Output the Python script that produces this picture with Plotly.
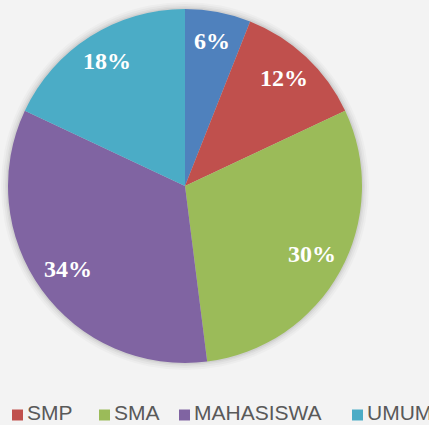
import math
import plotly.graph_objects as go

# Respondent groups and their shares (percent)
labels = ["SD", "SMP", "SMA", "MAHASISWA", "UMUM"]
values = [6, 12, 30, 34, 18]
colors = ["#4F81BD", "#C0504D", "#9BBB59", "#8064A2", "#4BACC6"]

W, H = 429, 425
CX, CY, R = 185, 186, 177          # pie centre and radius in pixels
LABEL_R = 0.82                     # label distance as fraction of radius

# legend item layout (pixels): square left edge for SMP .. UMUM
legend_sq_x = [12, 99, 179, 352]
legend_sq_y = 415
sq = 11


def px(x):
    return x / W


def py(y):
    return 1 - y / H


fig = go.Figure(
    go.Pie(
        labels=labels,
        values=values,
        sort=False,
        direction="clockwise",
        rotation=0,
        marker=dict(colors=colors, line=dict(width=0)),
        textinfo="none",
        hoverinfo="label+percent",
        showlegend=False,
        domain=dict(x=[px(CX - R), px(CX + R)], y=[py(CY + R), py(CY - R)]),
    )
)

# soft shadow ring behind the pie
shapes = []
for k, a in [(7, 0.025), (5, 0.03), (3, 0.04), (1.5, 0.05)]:
    shapes.append(dict(
        type="circle", xref="paper", yref="paper", layer="below",
        x0=px(CX - R - k), x1=px(CX + R + k),
        y0=py(CY + R + k), y1=py(CY - R - k),
        fillcolor=f"rgba(0,0,0,{a})", line=dict(width=0),
    ))

annotations = []
total = sum(values)
cum = 0
for lab, v in zip(labels, values):
    mid = (cum + v / 2) / total
    cum += v
    th = 2 * math.pi * mid
    x = CX + LABEL_R * R * math.sin(th)
    y = CY - LABEL_R * R * math.cos(th) - 2
    annotations.append(dict(
        x=px(x), y=py(y), xref="paper", yref="paper",
        text=f"<b>{round(100 * v / total)}%</b>", showarrow=False,
        font=dict(family="Liberation Serif", size=24, color="white"),
        xanchor="center", yanchor="middle",
    ))

# bottom legend (first entry falls outside the visible area)
for lab, col, x0 in zip(labels[1:], colors[1:], legend_sq_x):
    shapes.append(dict(
        type="rect", xref="paper", yref="paper",
        x0=px(x0), x1=px(x0 + sq),
        y0=py(legend_sq_y + sq / 2), y1=py(legend_sq_y - sq / 2),
        fillcolor=col, line=dict(width=0),
    ))
    annotations.append(dict(
        x=px(x0 + sq + 3), y=0, xref="paper", yref="paper",
        text=lab, showarrow=False, borderpad=0,
        font=dict(family="Liberation Sans", size=21, color="#595959"),
        xanchor="left", yanchor="bottom",
    ))

fig.update_layout(
    width=W, height=H,
    margin=dict(l=0, r=0, t=0, b=0),
    paper_bgcolor="#f3f3f3",
    plot_bgcolor="#f3f3f3",
    shapes=shapes,
    annotations=annotations,
)

fig.write_html("out.html")
